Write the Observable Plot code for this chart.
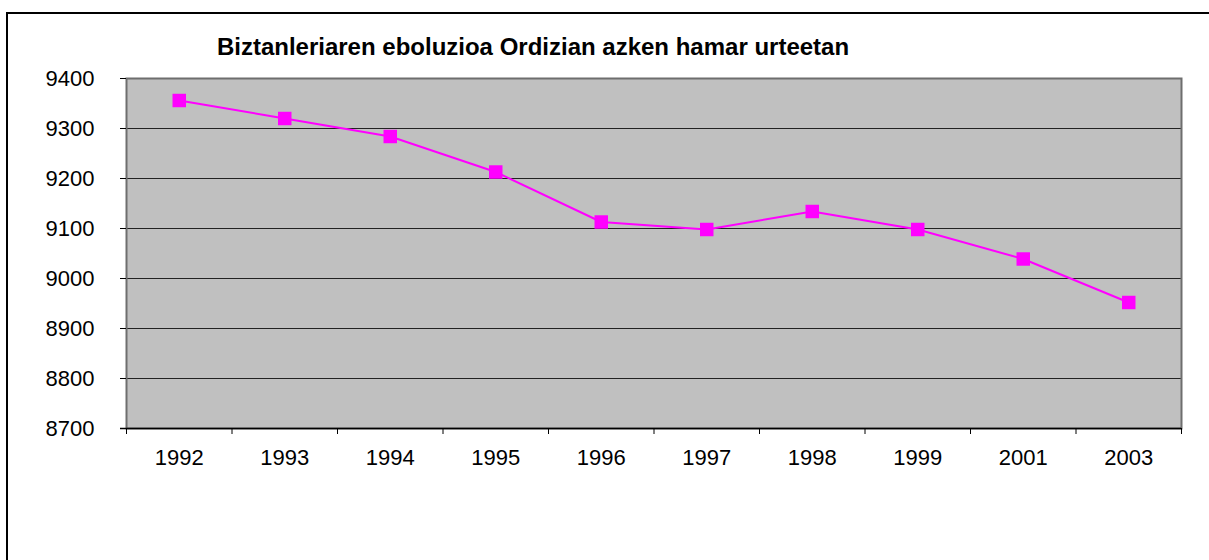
<!DOCTYPE html>
<html>
<head>
<meta charset="utf-8">
<script src="https://cdn.jsdelivr.net/npm/d3@7"></script>
<script src="https://cdn.jsdelivr.net/npm/@observablehq/plot@0.6"></script>
<style>
  html, body { margin: 0; padding: 0; background: #fff; overflow: hidden; }
  #wrap { position: relative; width: 1209px; height: 560px; overflow: hidden; font-family: "Liberation Sans", Arial, sans-serif; }
  #frame { position: absolute; left: 6px; top: 12px; width: 1300px; height: 700px; border-left: 2px solid #000; border-top: 2px solid #000; box-sizing: border-box; }
  #title { position: absolute; left: 0; width: 1066px; top: 33px; text-align: center; font-weight: bold; font-size: 24px; color: #000; }
  #chart { position: absolute; left: 0; top: 0; }
</style>
</head>
<body>
<div id="wrap">
  <div id="frame"></div>
  <div id="chart"></div>
  <div id="title">Biztanleriaren eboluzioa Ordizian azken hamar urteetan</div>
</div>
<script>
const years = ["1992","1993","1994","1995","1996","1997","1998","1999","2001","2003"];
const population = [9356, 9320, 9284, 9213, 9113, 9098, 9134, 9098, 9039, 8952];
const yTicks = [8700, 8800, 8900, 9000, 9100, 9200, 9300, 9400];

const data = years.map((y, i) => ({i, year: y, value: population[i]}));
const idx = years.map((_, i) => i);
const bounds = d3.range(years.length + 1).map(i => i - 0.5);

const chart = Plot.plot({
  width: 1209,
  height: 560,
  marginLeft: 126,
  marginRight: 28,
  marginTop: 78,
  marginBottom: 132,
  style: {fontFamily: "'Liberation Sans', Arial, sans-serif", fontSize: "22px", color: "#000", background: "transparent"},
  x: {type: "linear", domain: [-0.5, years.length - 0.5], axis: null},
  y: {type: "linear", domain: [8700, 9400], axis: null},
  marks: [
    Plot.frame({fill: "#C0C0C0", stroke: null}),
    Plot.ruleY(yTicks.slice(1), {stroke: "#222", strokeWidth: 1}),
    // plot area border
    Plot.frame({stroke: "#6e6e6e", strokeWidth: 2, fill: null}),
    // y axis ticks + labels
    Plot.axisY(yTicks, {anchor: "left", label: null, tickSize: 6, tickPadding: 26, stroke: "#000", tickFormat: d => String(d), fontSize: 22}),
    // x axis baseline
    Plot.ruleY([8700], {stroke: "#000", strokeWidth: 1.5, insetLeft: -6}),
    // x tick marks at category boundaries
    Plot.ruleX(bounds, {x: d => d, y1: () => 8700, y2: () => 8700, insetBottom: -6, stroke: "#000", strokeWidth: 1}),
    // x labels
    Plot.text(idx, {x: d => d, y: () => 8700, text: d => years[d], dy: 29, fontSize: 22, fill: "#000"}),
    // line and markers
    Plot.line(data, {x: "i", y: "value", stroke: "#FF00FF", strokeWidth: 2}),
    Plot.dot(data, {x: "i", y: "value", symbol: "square", r: 7.6, fill: "#FF00FF", stroke: null})
  ]
});
document.getElementById("chart").appendChild(chart);
</script>
</body>
</html>
